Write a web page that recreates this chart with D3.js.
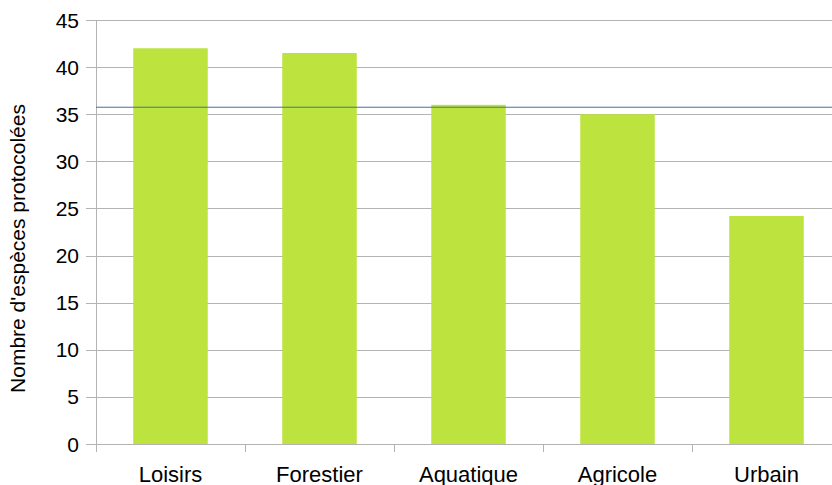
<!DOCTYPE html>
<html lang="fr">
<head>
<meta charset="UTF-8">
<title>Nombre d'espèces protocolées</title>
<script src="https://cdn.jsdelivr.net/npm/d3@7"></script>
<style>
  body { margin: 0; background: #fff; }
  text { font-family: "Liberation Sans", Arial, sans-serif; fill: #000; }
</style>
</head>
<body>
<svg id="chart" width="832" height="485"></svg>
<script>
const categories = ["Loisirs", "Forestier", "Aquatique", "Agricole", "Urbain"];
const values = [42, 41.5, 36, 35, 24.2];
const meanLine = 35.74;
const yTicks = [0, 5, 10, 15, 20, 25, 30, 35, 40, 45];

const svg = d3.select("#chart");
const margin = { top: 20, left: 96 };
const plotW = 745, plotH = 424;

const x = d3.scaleBand().domain(categories)
  .range([margin.left, margin.left + plotW])
  .paddingInner(0.5).paddingOuter(0.25);
const y = d3.scaleLinear().domain([0, 45]).range([margin.top + plotH, margin.top]);

// gridlines
svg.append("g")
  .selectAll("line")
  .data(yTicks)
  .join("line")
  .attr("x1", margin.left - 10)
  .attr("x2", margin.left + plotW)
  .attr("y1", d => Math.round(y(d)) + 0.5)
  .attr("y2", d => Math.round(y(d)) + 0.5)
  .attr("stroke", "#b3b3b3")
  .attr("stroke-width", 1);

// y labels
svg.append("g")
  .selectAll("text")
  .data(yTicks)
  .join("text")
  .attr("x", margin.left - 17)
  .attr("y", d => y(d))
  .attr("dy", "0.36em")
  .attr("text-anchor", "end")
  .style("font-size", "21px")
  .text(d => d);

// bars
svg.append("g")
  .selectAll("rect")
  .data(categories)
  .join("rect")
  .attr("x", d => x(d))
  .attr("width", x.bandwidth())
  .attr("y", (d, i) => y(values[i]))
  .attr("height", (d, i) => y(0) - y(values[i]))
  .attr("fill", "#bde33f");

// vertical axis line
svg.append("line")
  .attr("x1", margin.left + 0.5).attr("x2", margin.left + 0.5)
  .attr("y1", margin.top).attr("y2", margin.top + plotH + 8)
  .attr("stroke", "#b3b3b3");

// x ticks (category boundaries)
const bounds = categories.map(c => x(c) - x.step() * x.paddingOuter()).concat([margin.left + plotW]);
svg.append("g")
  .selectAll("line")
  .data(bounds)
  .join("line")
  .attr("x1", d => Math.round(d) + 0.5)
  .attr("x2", d => Math.round(d) + 0.5)
  .attr("y1", margin.top + plotH)
  .attr("y2", margin.top + plotH + 8)
  .attr("stroke", "#b3b3b3");

// x labels
svg.append("g")
  .selectAll("text")
  .data(categories)
  .join("text")
  .attr("x", d => x(d) + x.bandwidth() / 2)
  .attr("y", 481.5)
  .attr("text-anchor", "middle")
  .style("font-size", "22px")
  .text(d => d);

// mean line
svg.append("line")
  .attr("x1", margin.left)
  .attr("x2", margin.left + plotW)
  .attr("y1", y(meanLine))
  .attr("y2", y(meanLine))
  .attr("stroke", "#4a6f9c")
  .attr("stroke-width", 1);

// y title
svg.append("text")
  .attr("transform", `translate(25,248.5) rotate(-90)`)
  .attr("text-anchor", "middle")
  .style("font-size", "21px")
  .text("Nombre d'espèces protocolées");
</script>
</body>
</html>
